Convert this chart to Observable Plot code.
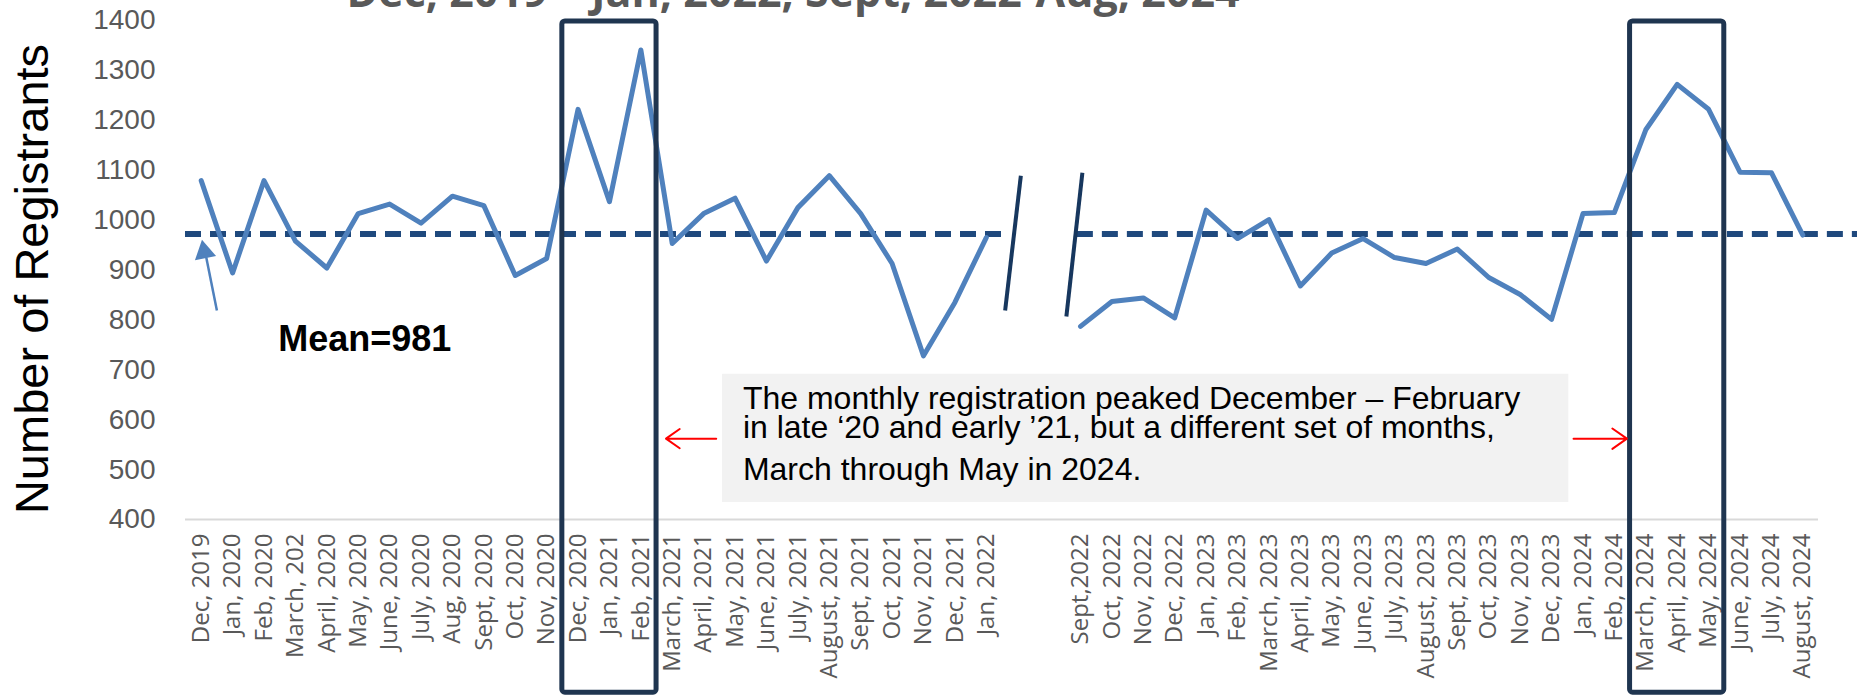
<!DOCTYPE html>
<html>
<head>
<meta charset="utf-8">
<script src="https://cdn.jsdelivr.net/npm/d3@7"></script>
<script src="https://cdn.jsdelivr.net/npm/@observablehq/plot@0.6"></script>
<style>
  html, body { margin: 0; padding: 0; background: #fff; overflow: hidden; }
  #wrap { position: relative; width: 1857px; height: 696px; }
  #title { position: absolute; left: 0; width: 1586px; top: -31px; text-align: center;
           font-family: "Open Sans", sans-serif; font-weight: 700; font-size: 43px; line-height: 1;
           color: #595959; white-space: nowrap; }
  #chart { position: absolute; left: 0; top: 0; }
</style>
</head>
<body>
<div id="wrap">
  <div id="chart"></div>
  <div id="title">Dec, 2019 – Jan, 2022; Sept, 2022-Aug, 2024</div>
</div>
<script>
// ---- Data ----
const labelsA = ["Dec, 2019","Jan, 2020","Feb, 2020","March, 202","April, 2020","May, 2020","June, 2020","July, 2020","Aug, 2020","Sept, 2020","Oct, 2020","Nov, 2020","Dec, 2020","Jan, 2021","Feb, 2021","March, 2021","April, 2021","May, 2021","June, 2021","July, 2021","August, 2021","Sept, 2021","Oct, 2021","Nov, 2021","Dec, 2021","Jan, 2022"];
const valuesA = [1079, 894, 1079, 958, 904, 1013, 1032, 994, 1048, 1029, 889, 923, 1222, 1037, 1341, 953, 1013, 1044, 918, 1025, 1089, 1013, 913, 728, 835, 965];
const gapLabels = ["", ""];
const labelsB = ["Sept,2022","Oct, 2022","Nov, 2022","Dec, 2022","Jan, 2023","Feb, 2023","March, 2023","April, 2023","May, 2023","June, 2023","July, 2023","August, 2023","Sept, 2023","Oct, 2023","Nov, 2023","Dec, 2023","Jan, 2024","Feb, 2024","March, 2024","April, 2024","May, 2024","June, 2024","July, 2024","August, 2024"];
const valuesB = [787, 837, 844, 804, 1020, 963, 1001, 868, 934, 963, 925, 913, 942, 885, 851, 801, 1013, 1015, 1181, 1272, 1222, 1096, 1095, 970];
const yTicks = [400, 500, 600, 700, 800, 900, 1000, 1100, 1200, 1300, 1400];

const meanLabel = "Mean=981";
const meanLineValue = 972;
const highlightRanges = [["Dec, 2020", "Feb, 2021"], ["March, 2024", "May, 2024"]];
const annotationLines = [
  "The monthly registration peaked December – February",
  "in late ‘20 and early ’21, but a different set of months,",
  "March through May in 2024."
];
const yTitle = "Number of Registrants";

// ---- Build table ----
const labels = [...labelsA, ...gapLabels, ...labelsB];
const values = [...valuesA, ...gapLabels.map(() => null), ...valuesB];
const table = labels.map((label, i) => ({i, label, value: values[i]}));
const idx = (name) => labels.indexOf(name);
const lastA = labelsA.length - 1;          // Jan, 2022
const firstB = labelsA.length + gapLabels.length; // Sept, 2022
const lastIdx = labels.length - 1;

const boxes = highlightRanges.map(([a, b]) => ({x1: idx(a) - 0.5, x2: idx(b) + 0.5, y1: 1398, y2: 53}));
const meanSegments = [
  {x1: -0.5, x2: lastA + 0.6},
  {x1: firstB - 0.1, x2: lastIdx + 1.8}
];
const breakMarks = [
  {x1: lastA + 0.6, y1: 819, x2: lastA + 1.1, y2: 1089},
  {x1: firstB - 0.45, y1: 807, x2: firstB + 0.06, y2: 1095}
];
const annotationBox = [{x1: 16.6, x2: 43.55, y1: 434, y2: 691}];
const annotationText = [
  {x: 17.25, y: 641, t: annotationLines[0]},
  {x: 17.25, y: 584, t: annotationLines[1]},
  {x: 17.25, y: 500, t: annotationLines[2]}
];
const redArrows = [
  {x1: 16.4, x2: 14.8, y: 562},
  {x1: 43.7, x2: 45.4, y: 562}
];
const meanArrow = [{x1: 0.5, y1: 819, x2: 0.13, y2: 935}];
const meanArrowHead = [{x: 0.1, y: 936}];
const meanText = [{x: 2.45, y: 760, t: meanLabel}];

const chart = Plot.plot({
  width: 1857,
  height: 696,
  marginTop: 20,
  marginBottom: 177,
  marginLeft: 185,
  marginRight: 39,
  style: {fontFamily: "'Liberation Sans', Arial, sans-serif", background: "white", overflow: "visible"},
  x: {type: "linear", domain: [-0.5, lastIdx + 0.5], axis: null},
  y: {domain: [400, 1400], axis: null},
  marks: [
    Plot.rect(annotationBox, {x1: "x1", x2: "x2", y1: "y1", y2: "y2", fill: "#F2F2F2"}),
    Plot.ruleY([400], {stroke: "#D9D9D9", strokeWidth: 2}),
    Plot.axisY({ticks: yTicks, tickFormat: (d) => String(d), tickSize: 0, tickPadding: 30, fontSize: 28,
                color: "#595959", label: null, fontFamily: "'Liberation Sans', Arial, sans-serif"}),
    Plot.axisX({ticks: d3.range(labels.length), tickFormat: (i) => labels[i] ?? "", tickRotate: -90,
                tickSize: 0, tickPadding: 14, fontSize: 24, color: "#595959", label: null,
                fontFamily: "'Open Sans', sans-serif"}),
    Plot.ruleY(meanSegments, {y: () => meanLineValue, x1: "x1", x2: "x2", stroke: "#1F497D",
                strokeWidth: 6, strokeDasharray: "16,9"}),
    Plot.line(table, {x: "i", y: "value", stroke: "#4F81BD", strokeWidth: 5, strokeLinejoin: "round", strokeLinecap: "round"}),
    Plot.link(breakMarks, {x1: "x1", y1: "y1", x2: "x2", y2: "y2", stroke: "#17375E", strokeWidth: 4}),
    Plot.rect(boxes, {x1: "x1", x2: "x2", y1: "y1", y2: "y2", fill: "none", stroke: "#1F3550", strokeWidth: 5, rx: 3}),
    Plot.text(annotationText, {x: "x", y: "y", text: "t", textAnchor: "start", fontSize: 32, fill: "black",
                fontFamily: "'Liberation Sans', Arial, sans-serif"}),
    Plot.arrow(redArrows, {x1: "x1", x2: "x2", y1: "y", y2: "y", stroke: "red", strokeWidth: 2, headLength: 18, headAngle: 70}),
    Plot.link(meanArrow, {x1: "x1", y1: "y1", x2: "x2", y2: "y2", stroke: "#4F81BD", strokeWidth: 2.5}),
    Plot.dot(meanArrowHead, {x: "x", y: "y", symbol: "triangle", r: 8, fill: "#4F81BD", stroke: "none", rotate: -11}),
    Plot.text(meanText, {x: "x", y: "y", text: "t", textAnchor: "start", fontSize: 36, fontWeight: "bold", fill: "black"}),
    Plot.text([yTitle], {frameAnchor: "left", textAnchor: "middle", rotate: -90, dx: -153, dy: 9, fontSize: 47, fill: "black",
                fontFamily: "'Liberation Sans', Arial, sans-serif"})
  ]
});
document.getElementById("chart").appendChild(chart);
</script>
</body>
</html>
